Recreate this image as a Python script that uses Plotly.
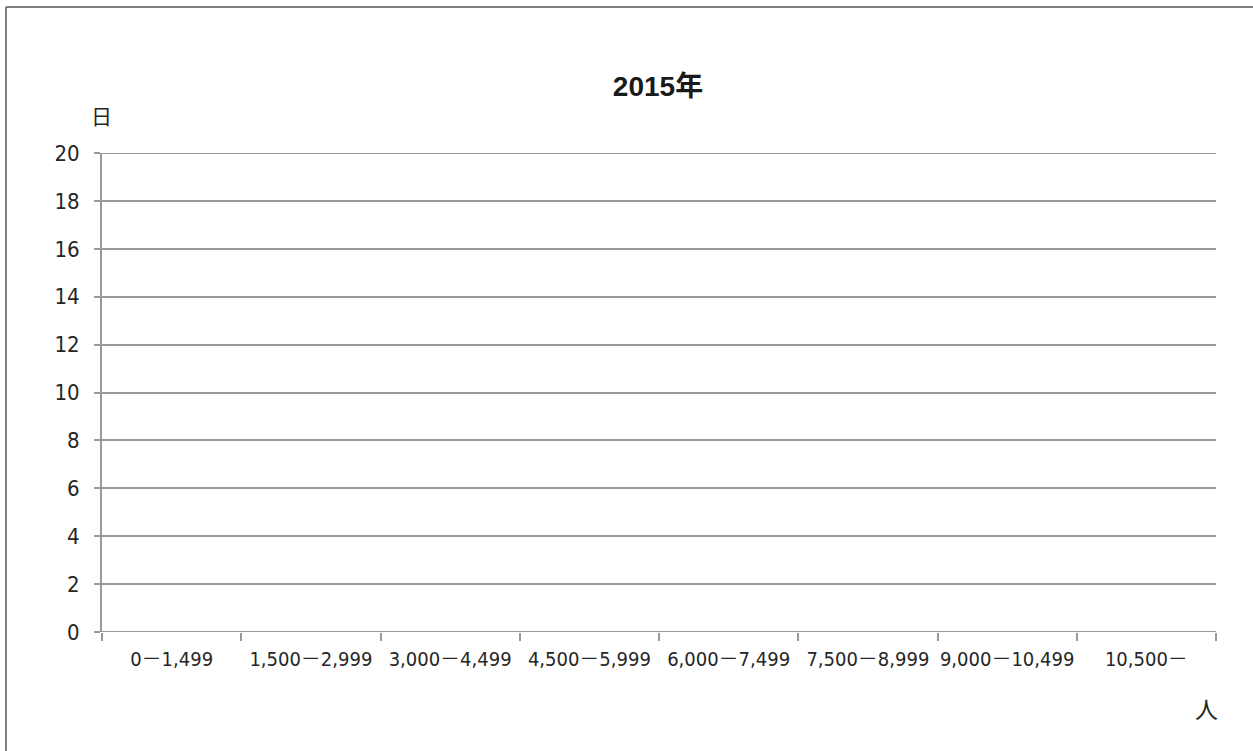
import plotly.graph_objects as go

# Histogram template: days per visitor-count bracket (blank sheet for 2015)
brackets = [
    "0－1,499",
    "1,500－2,999",
    "3,000－4,499",
    "4,500－5,999",
    "6,000－7,499",
    "7,500－8,999",
    "9,000－10,499",
    "10,500－",
]
days = [None, None, None, None, None, None, None, None]
y_ticks = [0, 2, 4, 6, 8, 10, 12, 14, 16, 18, 20]

title_text = "2015年"
y_unit = "日"
x_unit = "人"

W, H = 1253, 751
L, R, T, B = 102, 37, 153, 119
plot_w = W - L - R
plot_h = H - T - B

GRID = "#999999"
TEXT = "#262626"
FONT = "DejaVu Sans Condensed, Liberation Sans Narrow, Noto Sans CJK JP, sans-serif"
CJK = "Noto Sans CJK JP, sans-serif"


def px_x(p):
    return (p - L) / plot_w


def px_y(p):
    return (H - B - p) / plot_h


fig = go.Figure(
    go.Bar(
        x=brackets,
        y=days,
        marker=dict(color="#7f7f7f", line=dict(width=0)),
        width=1.0,
        showlegend=False,
    )
)

fig.update_layout(
    width=W,
    height=H,
    autosize=False,
    margin=dict(l=L, r=R, t=T, b=B, pad=0),
    paper_bgcolor="white",
    plot_bgcolor="white",
    font=dict(family=FONT, size=20, color=TEXT),
    title=dict(
        text=f"<b>{title_text}</b>",
        x=658 / W,
        xanchor="center",
        y=1 - 86 / H,
        yanchor="middle",
        font=dict(family="Liberation Sans, Arial, Noto Sans CJK JP, sans-serif", size=28, color="#1a1a1a"),
    ),
    xaxis=dict(
        type="category",
        categoryorder="array",
        categoryarray=brackets,
        range=[-0.5, len(brackets) - 0.5],
        tickson="boundaries",
        ticks="outside",
        ticklen=8,
        tickwidth=2,
        tickcolor=GRID,
        tickangle=0,
        showgrid=False,
        showline=False,
        zeroline=False,
        tickfont=dict(family=FONT, size=20, color=TEXT),
        ticklabelstandoff=13,
        fixedrange=True,
    ),
    yaxis=dict(
        range=[0, 20],
        tickvals=y_ticks,
        ticks="outside",
        ticklen=6,
        tickwidth=2,
        tickcolor=GRID,
        showgrid=True,
        gridcolor=GRID,
        gridwidth=2,
        showline=True,
        linecolor=GRID,
        linewidth=2,
        zeroline=False,
        tickfont=dict(family=FONT, size=22, color=TEXT),
        ticklabelstandoff=10,
        fixedrange=True,
    ),
    shapes=[
        # frame edges (left and top)
        dict(type="line", xref="paper", yref="paper",
             x0=px_x(6), x1=px_x(6), y0=px_y(7), y1=px_y(H + 5),
             line=dict(color="#555555", width=1.5)),
        dict(type="line", xref="paper", yref="paper",
             x0=px_x(6), x1=px_x(W + 5), y0=px_y(7), y1=px_y(7),
             line=dict(color="#555555", width=1.5)),
        # gridlines that sit on the plot edges (0 and 20)
        dict(type="line", xref="paper", yref="y",
             x0=px_x(96), x1=1, y0=y_ticks[0], y1=y_ticks[0],
             line=dict(color=GRID, width=2)),
        dict(type="line", xref="paper", yref="y",
             x0=px_x(96), x1=1, y0=y_ticks[-1], y1=y_ticks[-1],
             line=dict(color=GRID, width=2)),
    ],
    annotations=[
        dict(text=y_unit, xref="paper", yref="paper",
             x=px_x(101), y=px_y(115), xanchor="center", yanchor="middle",
             showarrow=False, font=dict(family=CJK, size=21, color=TEXT)),
        dict(text=x_unit, xref="paper", yref="paper",
             x=px_x(1206), y=px_y(708), xanchor="center", yanchor="middle",
             showarrow=False, font=dict(family=CJK, size=23, color=TEXT)),
    ],
)

fig.write_html("out.html")
